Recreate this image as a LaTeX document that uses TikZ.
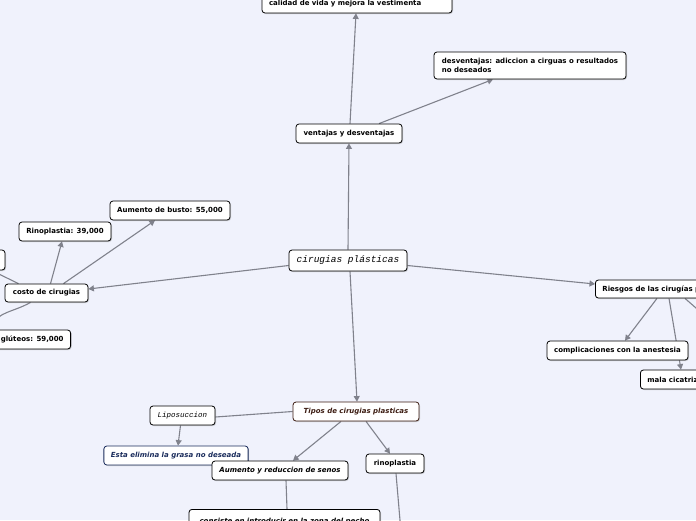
\documentclass[tikz,border=0pt]{standalone}
\usepackage{fontspec}
\setmainfont{DejaVu Sans}
\newfontfamily\monofont{Liberation Mono}
\usetikzlibrary{arrows.meta,shadows,backgrounds}

\definecolor{bgcol}{RGB}{240,242,252}
\definecolor{linkcol}{RGB}{128,130,140}
\definecolor{browncol}{RGB}{60,28,18}
\definecolor{navycol}{RGB}{26,44,92}

\tikzset{
  topic/.style={draw=black, fill=white, rounded corners=3pt, line width=0.8pt,
    font=\bfseries\fontsize{7}{8.5}\selectfont, minimum height=19pt, inner xsep=7pt,
    drop shadow={shadow xshift=1pt, shadow yshift=-1pt, opacity=0.35}},
  italtopic/.style={topic, font=\bfseries\itshape\fontsize{7}{8.5}\selectfont},
  monotopic/.style={topic, font=\monofont\itshape\fontsize{7.5}{9}\selectfont},
  link/.style={linkcol, line width=1.1pt},
  arrowlink/.style={link, -{Triangle[length=5.5pt,width=6pt]}},
}

\begin{document}
\begin{tikzpicture}[x=1pt, y=-1pt]

% Background
\useasboundingbox (0,0) rectangle (696,520);

% Central topic
\node[topic, font=\monofont\itshape\fontsize{9.5}{11}\selectfont, minimum width=118pt, minimum height=21pt] (central) at (348,260.5) {cirugias plásticas};

% Pros and cons
\node[topic, minimum width=106pt] (ventajas) at (349,133.5) {ventajas y desventajas};
\node[topic, text width=176pt, align=left, minimum height=18pt] (calidad) at (357,4) {calidad de vida y mejora la vestimenta};
\node[topic, minimum width=192pt, minimum height=27pt, align=left] (desventajas) at (530,65.5) {desventajas: adiccion a cirguas o resultados\\no deseados};

% Costs
\node[topic, minimum width=83pt, minimum height=18pt] (costo) at (46.5,293) {costo de cirugias};
\node[topic, minimum width=120pt] (busto) at (170,210.5) {Aumento de busto: 55,000};
\node[topic, minimum width=92pt] (rinocosto) at (65,231.5) {Rinoplastia: 39,000};
\node[topic, minimum width=90pt, minimum height=20pt] (otrocosto) at (-40,260) {};
\node[topic, text width=85pt, align=right, anchor=east] (gluteos) at (71,339.5) {glúteos: 59,000};

% Risks
\node[topic, anchor=west, minimum height=18pt] (riesgos) at (595,289) {Riesgos de las cirugías plásticas};
\node[topic, minimum width=141pt] (anestesia) at (617.5,350.5) {complicaciones con la anestesia};
\node[topic, anchor=west] (cicatriz) at (640,379.5) {mala cicatrización};
\coordinate (riesgosmas) at (712,322);

% Types of surgery
\node[italtopic, draw=browncol, text=browncol, minimum width=126pt] (tipos) at (356,411.5) {Tipos de cirugias plasticas};
\node[monotopic, minimum width=65pt] (lipo) at (182.5,415.5) {Liposuccion};
\node[italtopic, draw=navycol, text=navycol, minimum width=144pt] (grasa) at (176,455.5) {Esta elimina la grasa no deseada};
\node[italtopic, minimum width=136pt] (senos) at (280,470.5) {Aumento y reduccion de senos};
\node[topic, minimum width=58pt] (rinoplastia) at (395,463.5) {rinoplastia};
\node[italtopic, minimum width=191pt, minimum height=34pt, anchor=north, text depth=12pt] (pecho) at (284.5,509) {consiste en introducir en la zona del pecho};
\coordinate (rinomas) at (401,532);

% Connectors
\begin{scope}[on background layer]
  \fill[bgcol] (0,0) rectangle (696,520);
  \draw[arrowlink] (central.north) -- (ventajas.south);
  \draw[arrowlink] ([xshift=1pt]ventajas.north) -- ([xshift=-1pt]calidad.south);
  \draw[arrowlink] ([xshift=30pt]ventajas.north) -- ([xshift=-37pt]desventajas.south);
  \draw[arrowlink] ([yshift=-5pt]central.west) -- ([yshift=4pt]costo.east);
  \draw[arrowlink] ([yshift=-5pt]central.east) -- ([yshift=5pt]riesgos.west);
  \draw[arrowlink] ([xshift=2pt]central.south) -- ([xshift=1pt]tipos.north);
  \draw[arrowlink] ([xshift=4pt]costo.north) -- ([xshift=-3pt]rinocosto.south);
  \draw[arrowlink] ([xshift=17pt]costo.north) -- ([xshift=-15pt]busto.south);
  \draw[arrowlink] ([xshift=-28pt]costo.north) -- ([xshift=-14pt]otrocosto.south east);
  \draw[arrowlink] ([xshift=-16pt]costo.south) to[out=-150, in=70] ([xshift=-30pt]gluteos.north);
  \draw[arrowlink] ([xshift=62pt]riesgos.south west) -- ([xshift=7.5pt]anestesia.north);
  \draw[arrowlink] ([xshift=74pt]riesgos.south west) -- ([xshift=41pt]cicatriz.north west);
  \draw[link] ([xshift=90pt]riesgos.south west) -- (riesgosmas);
  \draw[arrowlink] ([xshift=-15pt]tipos.south) -- ([xshift=13pt]senos.north);
  \draw[arrowlink] ([xshift=10pt]tipos.south) -- ([xshift=-5pt]rinoplastia.north);
  \draw[link] (tipos.west) -- ([yshift=-1.5pt]lipo.east);
  \draw[arrowlink] ([xshift=-2pt]lipo.south) -- ([xshift=2pt]grasa.north);
  \draw[link] ([xshift=6pt]senos.south) -- ([xshift=2.5pt]pecho.north);
  \draw[link] ([xshift=1pt]rinoplastia.south) -- (rinomas);
\end{scope}

\end{tikzpicture}
\end{document}
